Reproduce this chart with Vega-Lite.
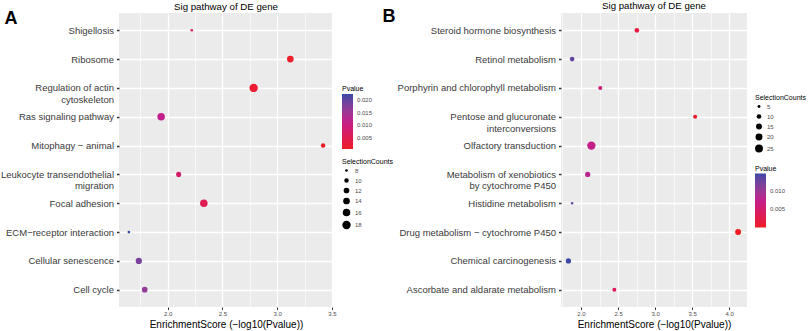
{
  "$schema": "https://vega.github.io/schema/vega-lite/v6.json",
  "background": "white",
  "padding": {"left": 0, "top": 0, "right": 0, "bottom": 0},
  "config": {
    "font": "Liberation Sans",
    "view": {"fill": "#EBEBEB", "stroke": null},
    "title": {"font": "Liberation Sans", "fontSize": 9.7, "fontWeight": "normal", "color": "black", "offset": -3}
  },
  "datasets": {
    "panelA": [
      {"Pathway": "Shigellosis", "EnrichmentScore": 2.22, "Pvalue": 0.006, "SelectionCounts": 8},
      {"Pathway": "Ribosome", "EnrichmentScore": 3.12, "Pvalue": 0.00076, "SelectionCounts": 14},
      {"Pathway": "Regulation of actin\ncytoskeleton", "EnrichmentScore": 2.785, "Pvalue": 0.00164, "SelectionCounts": 18},
      {"Pathway": "Ras signaling pathway", "EnrichmentScore": 1.94, "Pvalue": 0.0115, "SelectionCounts": 16},
      {"Pathway": "Mitophagy − animal", "EnrichmentScore": 3.42, "Pvalue": 0.00038, "SelectionCounts": 10},
      {"Pathway": "Leukocyte transendothelial\nmigration", "EnrichmentScore": 2.1, "Pvalue": 0.0079, "SelectionCounts": 11},
      {"Pathway": "Focal adhesion", "EnrichmentScore": 2.33, "Pvalue": 0.0047, "SelectionCounts": 16},
      {"Pathway": "ECM−receptor interaction", "EnrichmentScore": 1.645, "Pvalue": 0.0226, "SelectionCounts": 8},
      {"Pathway": "Cellular senescence", "EnrichmentScore": 1.736, "Pvalue": 0.0184, "SelectionCounts": 13},
      {"Pathway": "Cell cycle", "EnrichmentScore": 1.79, "Pvalue": 0.0162, "SelectionCounts": 12}
    ],
    "panelB": [
      {"Pathway": "Steroid hormone biosynthesis", "EnrichmentScore": 2.754, "Pvalue": 0.00176, "SelectionCounts": 10},
      {"Pathway": "Retinol metabolism", "EnrichmentScore": 1.88, "Pvalue": 0.0132, "SelectionCounts": 10},
      {"Pathway": "Porphyrin and chlorophyll metabolism", "EnrichmentScore": 2.26, "Pvalue": 0.0055, "SelectionCounts": 8},
      {"Pathway": "Pentose and glucuronate\ninterconversions", "EnrichmentScore": 3.54, "Pvalue": 0.00029, "SelectionCounts": 8},
      {"Pathway": "Olfactory transduction", "EnrichmentScore": 2.14, "Pvalue": 0.0072, "SelectionCounts": 28},
      {"Pathway": "Metabolism of xenobiotics\nby cytochrome P450", "EnrichmentScore": 2.09, "Pvalue": 0.0081, "SelectionCounts": 12},
      {"Pathway": "Histidine metabolism", "EnrichmentScore": 1.88, "Pvalue": 0.0132, "SelectionCounts": 4},
      {"Pathway": "Drug metabolism − cytochrome P450", "EnrichmentScore": 4.12, "Pvalue": 0.000076, "SelectionCounts": 15},
      {"Pathway": "Chemical carcinogenesis", "EnrichmentScore": 1.83, "Pvalue": 0.0148, "SelectionCounts": 12},
      {"Pathway": "Ascorbate and aldarate metabolism", "EnrichmentScore": 2.45, "Pvalue": 0.0035, "SelectionCounts": 8}
    ]
  },
  "hconcat": [
    {
      "width": 214,
      "height": 294,
      "title": {"text": "Sig pathway of DE gene"},
      "data": {"name": "panelA"},
      "layer": [
        {
          "mark": {"type": "circle", "opacity": 0},
          "encoding": {
            "x": {
              "field": "EnrichmentScore", "type": "quantitative",
              "scale": {"domain": [1.555, 3.51], "nice": false, "zero": false},
              "axis": {"orient": "top", "values": [1.75, 2.25, 2.75, 3.25], "grid": true, "gridColor": "white", "gridWidth": 0.6, "labels": false, "ticks": false, "domain": false, "title": null}
            }
          }
        },
        {
          "mark": {"type": "circle", "opacity": 1},
          "encoding": {
            "x": {
              "field": "EnrichmentScore", "type": "quantitative",
              "axis": {
                "orient": "bottom", "values": [2.0, 2.5, 3.0, 3.5], "format": ".1f",
                "grid": true, "gridColor": "white", "gridWidth": 1.3,
                "domain": false, "tickColor": "#333333", "tickSize": 2.5, "tickWidth": 1,
                "labelFontSize": 6, "labelColor": "#4d4d4d", "labelPadding": 1,
                "title": "EnrichmentScore (−log10(Pvalue))", "titleFontSize": 10, "titleFontWeight": "normal", "titleColor": "black", "titlePadding": 3
              }
            },
            "y": {
              "field": "Pathway", "type": "nominal", "sort": null,
              "scale": {"type": "point", "padding": 0.6},
              "axis": {
                "grid": true, "gridColor": "white", "gridWidth": 1.3,
                "domain": false, "tickColor": "#333333", "tickSize": 2.5, "tickWidth": 1.5,
                "labelFontSize": 9.5, "labelColor": "#3a3a3a", "labelPadding": 3, "labelLimit": 300,
                "labelLineHeight": 11.5,
                "labelExpr": "split(datum.label, '\\n')",
                "encode": {"labels": {"update": {
                  "align": {"signal": "indexof(datum.value, '\\n') >= 0 ? 'center' : 'right'"},
                  "dx": {"signal": "indexof(datum.value, 'Regulation') === 0 ? -40 : (indexof(datum.value, 'Leukocyte') === 0 ? -56 : 0)"}
                }}},
                "title": "A", "titleAngle": 0, "titleX": -115, "titleY": 10, "titleAlign": "left", "titleBaseline": "alphabetic",
                "titleFontSize": 18, "titleFontWeight": "bold", "titleColor": "black"
              }
            },
            "color": {
              "field": "Pvalue", "type": "quantitative",
              "scale": {"range": ["#EE1D25", "#C21E8C", "#3A48A6"], "interpolate": "lab"},
              "legend": {
                "orient": "none", "legendX": 223, "legendY": 72, "direction": "vertical",
                "gradientLength": 55, "gradientThickness": 11, "values": [0.005, 0.01, 0.015, 0.02], "format": ".3f",
                "titleFontSize": 7, "titleFontWeight": "normal", "titleColor": "black", "titlePadding": 2,
                "labelFontSize": 6, "labelColor": "#4d4d4d", "labelOffset": 4
              }
            },
            "size": {
              "field": "SelectionCounts", "type": "quantitative",
              "scale": {"range": [7, 70], "zero": false},
              "legend": {
                "orient": "none", "legendX": 223, "legendY": 144.5,
                "values": [8, 10, 12, 14, 16, 18],
                "symbolFillColor": "black", "symbolStrokeColor": "black", "symbolStrokeWidth": 0, "symbolOpacity": 1,
                "titleFontSize": 7, "titleFontWeight": "normal", "titleColor": "black", "titlePadding": 3,
                "labelFontSize": 6, "labelColor": "#4d4d4d", "rowPadding": 4
              }
            }
          }
        }
      ],
      "resolve": {"axis": {"x": "independent"}}
    },
    {
      "width": 186,
      "height": 294,
      "title": {"text": "Sig pathway of DE gene"},
      "data": {"name": "panelB"},
      "layer": [
        {
          "mark": {"type": "circle", "opacity": 0},
          "encoding": {
            "x": {
              "field": "EnrichmentScore", "type": "quantitative",
              "scale": {"domain": [1.73, 4.24], "nice": false, "zero": false},
              "axis": {"orient": "top", "values": [1.75, 2.25, 2.75, 3.25, 3.75], "grid": true, "gridColor": "white", "gridWidth": 0.6, "labels": false, "ticks": false, "domain": false, "title": null}
            }
          }
        },
        {
          "mark": {"type": "circle", "opacity": 1},
          "encoding": {
            "x": {
              "field": "EnrichmentScore", "type": "quantitative",
              "axis": {
                "orient": "bottom", "values": [2.0, 2.5, 3.0, 3.5, 4.0], "format": ".1f",
                "grid": true, "gridColor": "white", "gridWidth": 1.3,
                "domain": false, "tickColor": "#333333", "tickSize": 2.5, "tickWidth": 1,
                "labelFontSize": 6, "labelColor": "#4d4d4d", "labelPadding": 1,
                "title": "EnrichmentScore (−log10(Pvalue))", "titleFontSize": 10, "titleFontWeight": "normal", "titleColor": "black", "titlePadding": 3
              }
            },
            "y": {
              "field": "Pathway", "type": "nominal", "sort": null,
              "scale": {"type": "point", "padding": 0.6},
              "axis": {
                "grid": true, "gridColor": "white", "gridWidth": 1.3,
                "domain": false, "tickColor": "#333333", "tickSize": 2.5, "tickWidth": 1.5,
                "labelFontSize": 9.5, "labelColor": "#3a3a3a", "labelPadding": 3, "labelLimit": 300,
                "labelLineHeight": 11.5,
                "labelExpr": "split(datum.label, '\\n')",
                "encode": {"labels": {"update": {
                  "align": {"signal": "indexof(datum.value, '\\n') >= 0 ? 'center' : 'right'"},
                  "dx": {"signal": "indexof(datum.value, 'Pentose') === 0 ? -54 : (indexof(datum.value, 'Metabolism of') === 0 ? -56 : 0)"}
                }}},
                "title": "B", "titleAngle": 0, "titleX": -179, "titleY": 8.5, "titleAlign": "left", "titleBaseline": "alphabetic",
                "titleFontSize": 18, "titleFontWeight": "bold", "titleColor": "black"
              }
            },
            "color": {
              "field": "Pvalue", "type": "quantitative",
              "scale": {"range": ["#EE1D25", "#C21E8C", "#3A48A6"], "interpolate": "lab"},
              "legend": {
                "orient": "none", "legendX": 194, "legendY": 151.5, "direction": "vertical",
                "gradientLength": 54, "gradientThickness": 11, "values": [0.005, 0.01], "format": ".3f",
                "titleFontSize": 7, "titleFontWeight": "normal", "titleColor": "black", "titlePadding": 2,
                "labelFontSize": 6, "labelColor": "#4d4d4d", "labelOffset": 4
              }
            },
            "size": {
              "field": "SelectionCounts", "type": "quantitative",
              "scale": {"range": [6, 70], "zero": false},
              "legend": {
                "orient": "none", "legendX": 194, "legendY": 80.5,
                "values": [5, 10, 15, 20, 25],
                "symbolFillColor": "black", "symbolStrokeColor": "black", "symbolStrokeWidth": 0, "symbolOpacity": 1,
                "titleFontSize": 7, "titleFontWeight": "normal", "titleColor": "black", "titlePadding": 3,
                "labelFontSize": 6, "labelColor": "#4d4d4d", "rowPadding": 4
              }
            }
          }
        }
      ],
      "resolve": {"axis": {"x": "independent"}}
    }
  ],
  "bounds": "flush",
  "spacing": 228,
  "resolve": {"scale": {"x": "independent", "y": "independent", "color": "independent", "size": "independent"}}
}
